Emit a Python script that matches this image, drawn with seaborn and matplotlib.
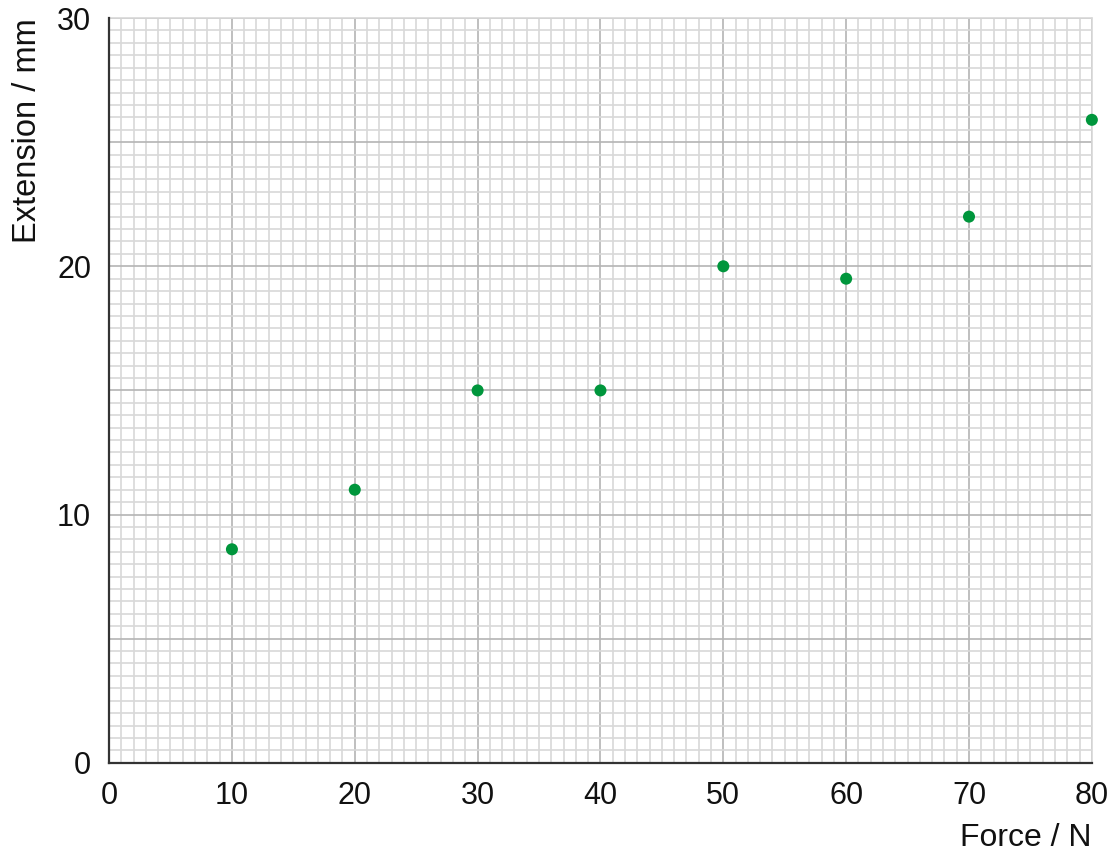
import matplotlib
matplotlib.use("Agg")
import matplotlib.pyplot as plt
import numpy as np
import pandas as pd
import seaborn as sns
from matplotlib.ticker import MultipleLocator

# values
force = [10, 20, 30, 40, 50, 60, 70, 80]
extension = [8.6, 11, 15, 15, 20, 19.5, 22, 25.9]
x_ticks = [0, 10, 20, 30, 40, 50, 60, 70, 80]
y_ticks = [0, 5, 10, 15, 20, 25, 30]
y_labels = ["0", "", "10", "", "20", "", "30"]

sns.set_style("white")
plt.rcParams["font.family"] = ["Liberation Sans", "DejaVu Sans"]

df = pd.DataFrame({"Force / N": force, "Extension / mm": extension})

fig = plt.figure(figsize=(11.13, 8.59), dpi=100)
ax = fig.add_axes([0.098, 0.112, 0.883, 0.867])

sns.scatterplot(data=df, x="Force / N", y="Extension / mm", ax=ax,
                color="#00963c", s=75, edgecolor="none", zorder=5, clip_on=False)

ax.set_xlim(0, 80)
ax.set_ylim(0, 30)
ax.set_xticks(x_ticks)
ax.set_yticks(y_ticks)
ax.set_yticklabels(y_labels)
ax.xaxis.set_minor_locator(MultipleLocator(1))
ax.yaxis.set_minor_locator(MultipleLocator(0.5))

ax.grid(which="minor", color="#d8d8d8", linewidth=1.2)
ax.grid(which="major", color="#b4b4b4", linewidth=1.2)
ax.set_axisbelow(True)

for side in ["top", "right"]:
    ax.spines[side].set_visible(False)
for side in ["left", "bottom"]:
    ax.spines[side].set_color("#333333")
    ax.spines[side].set_linewidth(1.6)

ax.tick_params(which="major", direction="out", length=7, width=1.4,
               color="#333333", labelsize=22, pad=6, labelcolor="#111111")
ax.tick_params(which="minor", length=0)

ax.set_xlabel("Force / N", fontsize=23, loc="right", color="#111111", labelpad=9)
ax.set_ylabel("Extension / mm", fontsize=23.5, loc="top", color="#111111", labelpad=10)

# close the paper grid at top and right
ax.axhline(30, color="#d8d8d8", linewidth=1.2, clip_on=False, zorder=1)
ax.axvline(80, color="#d8d8d8", linewidth=1.2, clip_on=False, zorder=1)

plt.savefig("out.png", dpi=100)
